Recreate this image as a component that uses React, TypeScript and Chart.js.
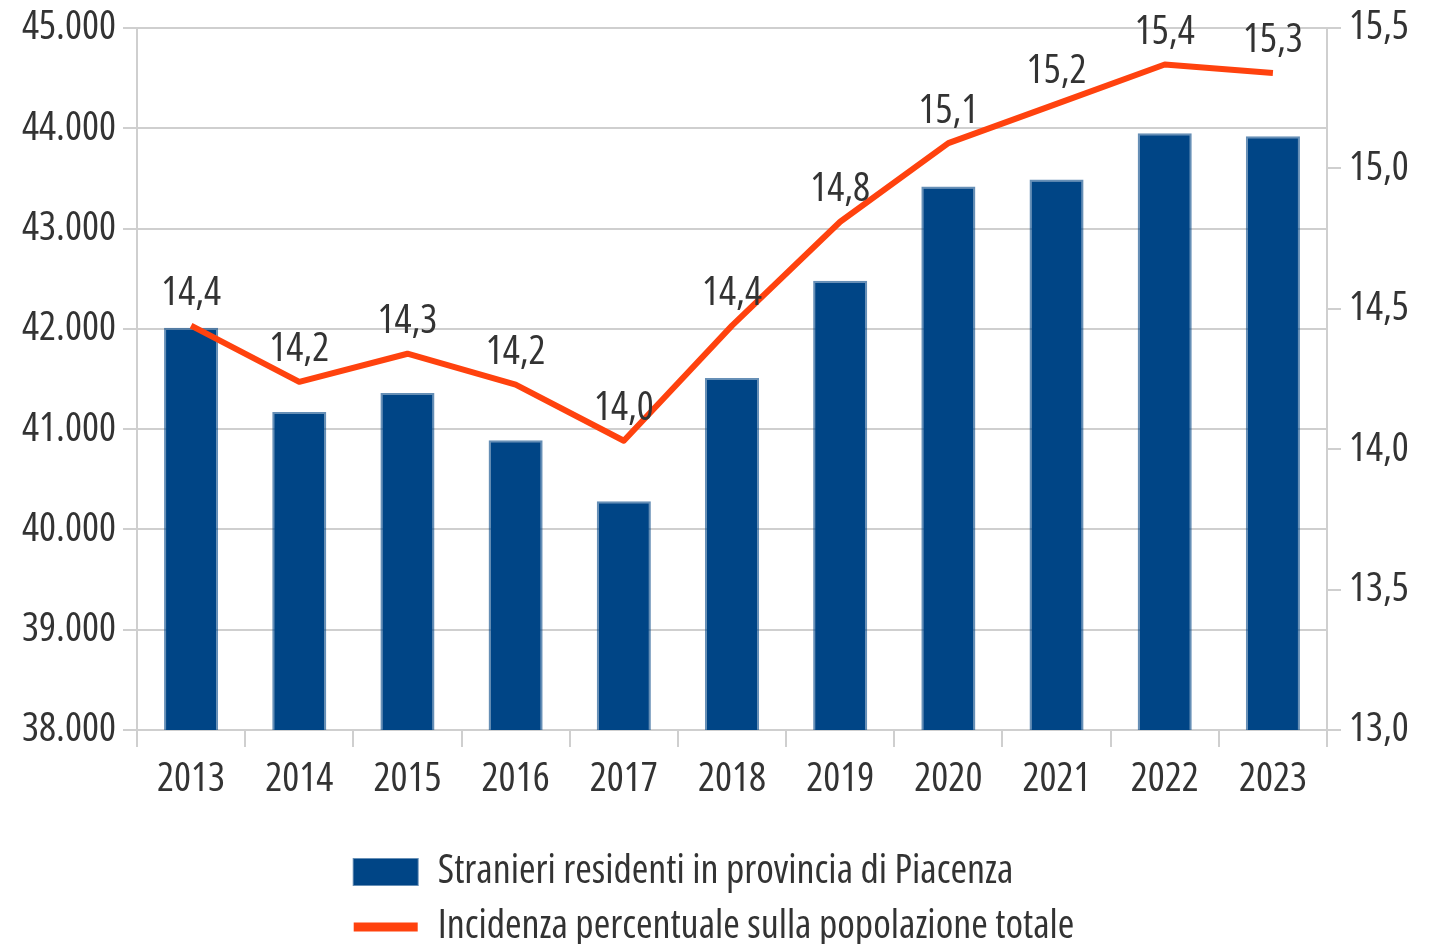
import React, { useEffect, useRef } from 'react';
import { Chart, registerables } from 'chart.js';

Chart.register(...registerables);

const years = ['2013', '2014', '2015', '2016', '2017', '2018', '2019', '2020', '2021', '2022', '2023'];
const residents = [42010, 41170, 41360, 40890, 40280, 41510, 42480, 43420, 43490, 43950, 43920];
const incidence = [14.44, 14.24, 14.34, 14.23, 14.03, 14.44, 14.81, 15.09, 15.23, 15.37, 15.34];
const residentsLabel = 'Stranieri residenti in provincia di Piacenza';
const incidenceLabel = 'Incidenza percentuale sulla popolazione totale';
const leftAxisMin = 38000;
const leftAxisMax = 45000;
const leftAxisStep = 1000;
const rightAxisMin = 13;
const rightAxisMax = 15.5;
const rightAxisStep = 0.5;

const FONT = '"Open Sans", "Roboto Condensed", sans-serif';
const FONT_STRETCH = 'condensed';
const FONT_SIZE = 40;
const TEXT = '#333333';
const GRID = '#cfcfcf';
const BAR_COLOR = '#004586';
const BAR_EDGE = 'rgba(0, 69, 134, 0.6)';
const LINE_COLOR = '#ff420e';
const LEGEND_NUDGE = 36;

// Chart.js places "weight" before the size in the CSS font shorthand, so the stretch keyword goes there.
const tickFont = { family: FONT, size: FONT_SIZE, weight: FONT_STRETCH as any, lineHeight: 1 };

const fmtThousands = (v: number) => Math.round(v).toString().replace(/\B(?=(\d{3})+(?!\d))/g, '.');
const fmtDecimal = (v: number) => v.toFixed(1).replace('.', ',');

const dataLabels = {
  id: 'dataLabels',
  afterDatasetsDraw(chart: any) {
    const ctx = chart.ctx;
    const meta = chart.getDatasetMeta(0);
    ctx.save();
    ctx.font = `${FONT_STRETCH} ${FONT_SIZE}px ${FONT}`;
    ctx.fillStyle = TEXT;
    ctx.textAlign = 'center';
    ctx.textBaseline = 'middle';
    meta.data.forEach((pt: any, i: number) => {
      ctx.fillText(fmtDecimal(incidence[i]), pt.x, pt.y - 32);
    });
    ctx.restore();
  },
};

const legendAlign = {
  id: 'legendAlign',
  beforeDraw(chart: any) {
    const lg = chart.legend;
    if (lg && lg.lineWidths && lg.lineWidths.length) {
      if (lg._baseLineWidths === undefined) lg._baseLineWidths = lg.lineWidths.slice();
      const m = Math.max(...lg._baseLineWidths);
      lg.lineWidths = lg._baseLineWidths.map(() => m + LEGEND_NUDGE);
    }
  },
  afterUpdate(chart: any) {
    if (chart.legend) chart.legend._baseLineWidths = undefined;
  },
};

export default function App() {
  const ref = useRef<HTMLCanvasElement | null>(null);

  useEffect(() => {
    if (!ref.current) return;
    const chart = new Chart(ref.current, {
      type: 'bar',
      data: {
        labels: years,
        datasets: [
          {
            type: 'line',
            label: incidenceLabel,
            data: incidence,
            yAxisID: 'y1',
            borderColor: LINE_COLOR,
            backgroundColor: LINE_COLOR,
            borderWidth: 6,
            pointRadius: 0,
            pointHoverRadius: 0,
            tension: 0,
            borderJoinStyle: 'round',
            order: 0,
          } as any,
          {
            type: 'bar',
            label: residentsLabel,
            data: residents,
            yAxisID: 'y',
            backgroundColor: BAR_COLOR,
            borderColor: BAR_EDGE,
            borderWidth: 2,
            categoryPercentage: 1,
            barPercentage: 0.5,
            order: 1,
          } as any,
        ],
      },
      options: {
        animation: false,
        responsive: true,
        maintainAspectRatio: false,
        layout: { padding: { top: 28, left: 0, right: 0, bottom: 0 } },
        plugins: {
          tooltip: { enabled: false },
          legend: {
            position: 'bottom',
            fullSize: false,
            maxHeight: 107,
            labels: {
              font: tickFont,
              color: TEXT,
              usePointStyle: true,
              pointStyleWidth: 64,
              boxHeight: 26,
              padding: 15,
              generateLabels: () => [
                {
                  text: residentsLabel,
                  fillStyle: BAR_COLOR,
                  strokeStyle: BAR_EDGE,
                  lineWidth: 2,
                  pointStyle: 'rect',
                  hidden: false,
                  datasetIndex: 1,
                  fontColor: TEXT,
                } as any,
                {
                  text: incidenceLabel,
                  fillStyle: LINE_COLOR,
                  strokeStyle: LINE_COLOR,
                  lineWidth: 9,
                  pointStyle: 'line',
                  hidden: false,
                  datasetIndex: 0,
                  fontColor: TEXT,
                } as any,
              ],
            },
          },
        },
        scales: {
          x: {
            offset: true,
            grid: {
              drawOnChartArea: false,
              drawTicks: true,
              tickLength: 17,
              color: GRID,
              lineWidth: 2,
              offset: true,
            },
            border: { display: true, color: GRID, width: 2 },
            ticks: {
              font: tickFont,
              color: TEXT,
              padding: 13,
              maxRotation: 0,
              autoSkip: false,
            },
            afterFit: (s: any) => {
              s.height = 107;
            },
          },
          y: {
            position: 'left',
            min: leftAxisMin,
            max: leftAxisMax,
            grid: { color: GRID, lineWidth: 2, tickLength: 14, drawTicks: true },
            border: { display: true, color: GRID, width: 2 },
            ticks: {
              stepSize: leftAxisStep,
              font: tickFont,
              color: TEXT,
              padding: 7,
              callback: (v: any) => fmtThousands(Number(v)),
            },
            afterFit: (s: any) => {
              s.width = 137;
            },
          },
          y1: {
            position: 'right',
            min: rightAxisMin,
            max: rightAxisMax,
            grid: { drawOnChartArea: false, color: GRID, lineWidth: 2, tickLength: 14, drawTicks: true },
            border: { display: true, color: GRID, width: 2 },
            ticks: {
              stepSize: rightAxisStep,
              font: tickFont,
              color: TEXT,
              padding: 8,
              callback: (v: any) => fmtDecimal(Number(v)),
            },
            afterFit: (s: any) => {
              s.width = 111;
            },
          },
        },
      },
      plugins: [dataLabels, legendAlign],
    });
    return () => chart.destroy();
  }, []);

  return (
    <div style={{ position: 'fixed', left: 0, top: 0, width: 1438, height: 944, background: '#ffffff' }}>
      <canvas ref={ref} />
    </div>
  );
}
